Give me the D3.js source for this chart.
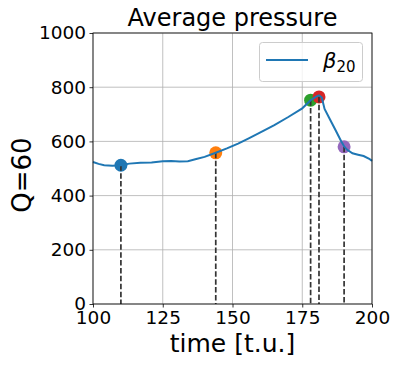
<!DOCTYPE html>
<meta charset="utf-8">
<script src="https://d3js.org/d3.v7.js"></script>
<style>
  body { margin: 0; background: #fff; }
  text { font-family: "DejaVu Sans", sans-serif; }
</style>
<div id="my_dataviz"></div>
<script>

// pressure curve
const times = [100, 102, 104, 107, 110, 113, 117, 121, 125, 128, 131, 134, 137, 140, 144, 148, 152, 156, 160, 165, 170, 175, 178, 180, 181, 182, 183, 185, 187, 189, 190, 191, 193, 195, 197, 199, 200];
const pressure = [524, 517, 512, 510, 512, 518, 521, 522, 527, 528, 526, 527, 535, 543, 558, 574, 592, 612, 633, 660, 690, 722, 752, 765, 770, 762, 720, 680, 640, 600, 582, 570, 556, 551, 546, 536, 528];

// marked instants
const markTimes = [110, 144, 178, 181, 190];
const markValues = [512, 558, 752, 764, 580];
const markColors = ["#1f77b4", "#ff7f0e", "#2ca02c", "#d62728", "#9467bd"];

const xTicks = [100, 125, 150, 175, 200];
const yTicks = [0, 200, 400, 600, 800, 1000];

const margin = {top: 33, right: 26, bottom: 61, left: 93},
  width = 398 - margin.left - margin.right,
  height = 365 - margin.top - margin.bottom;

const root = d3.select("#my_dataviz")
  .append("svg")
    .attr("width", 398)
    .attr("height", 365);

const svg = root.append("g")
  .attr("transform", `translate(${margin.left}, ${margin.top})`);

const x = d3.scaleLinear().domain([100, 200]).range([0, width]);
const y = d3.scaleLinear().domain([0, 1000]).range([height, 0]);

// grid
svg.append("g")
  .selectAll("line.gx")
  .data(xTicks)
  .join("line")
    .attr("x1", d => x(d)).attr("x2", d => x(d))
    .attr("y1", 0).attr("y2", height)
    .style("stroke", "#b0b0b0").style("stroke-width", 0.8);
svg.append("g")
  .selectAll("line.gy")
  .data(yTicks)
  .join("line")
    .attr("x1", 0).attr("x2", width)
    .attr("y1", d => y(d)).attr("y2", d => y(d))
    .style("stroke", "#b0b0b0").style("stroke-width", 0.8);

// axes
const xAxis = svg.append("g")
  .attr("transform", `translate(0, ${height})`)
  .call(d3.axisBottom(x).tickValues(xTicks).tickSize(3.5).tickPadding(3.5));
const yAxis = svg.append("g")
  .call(d3.axisLeft(y).tickValues(yTicks).tickSize(3.5).tickPadding(3.5).tickFormat(d3.format("d")));
[xAxis, yAxis].forEach(a => {
  a.selectAll("text").style("font-size", "18.5px").style("fill", "#000");
  a.selectAll("line").style("stroke", "#000").style("stroke-width", 0.8);
  a.select(".domain").remove();
});
xAxis.selectAll("text").attr("dy", "0.75em").attr("y", 6);

// markers
const marks = markTimes.map((t, i) => ({t: t, v: markValues[i], c: markColors[i]}));
svg.append("g")
  .selectAll("circle")
  .data(marks)
  .join("circle")
    .attr("cx", d => x(d.t))
    .attr("cy", d => y(d.v))
    .attr("r", 6.5)
    .style("fill", d => d.c);

// dashed drop lines
svg.append("g")
  .selectAll("line")
  .data(marks)
  .join("line")
    .attr("x1", d => x(d.t)).attr("x2", d => x(d.t))
    .attr("y1", d => y(d.v)).attr("y2", height)
    .style("stroke", "#333")
    .style("stroke-width", 1.7)
    .style("stroke-dasharray", "5.5,2.4");

// curve
const line = d3.line()
  .x((d, i) => x(times[i]))
  .y(d => y(d));
svg.append("path")
  .datum(pressure)
  .attr("d", line)
  .style("fill", "none")
  .style("stroke", "#1f77b4")
  .style("stroke-width", 2);

// frame
svg.append("rect")
  .attr("width", width).attr("height", height)
  .style("fill", "none").style("stroke", "#000").style("stroke-width", 0.8);

// legend
const lg = root.append("g");
lg.append("rect")
  .attr("x", 259.5).attr("y", 42.5).attr("width", 103).attr("height", 39)
  .attr("rx", 3)
  .style("fill", "#fff").style("fill-opacity", 0.8)
  .style("stroke", "#ccc").style("stroke-width", 1);
lg.append("line")
  .attr("x1", 266).attr("x2", 308).attr("y1", 60).attr("y2", 60)
  .style("stroke", "#1f77b4").style("stroke-width", 2);
const lt = lg.append("text")
  .attr("x", 323).attr("y", 68)
  .style("font-size", "21px");
lt.append("tspan").style("font-style", "italic").text("β");
lt.append("tspan").attr("dy", 4).style("font-size", "15px").text("20");

// titles
root.append("text")
  .attr("x", margin.left + width / 2).attr("y", 26)
  .attr("text-anchor", "middle")
  .style("font-size", "24px")
  .text("Average pressure");
root.append("text")
  .attr("x", margin.left + width / 2).attr("y", 352)
  .attr("text-anchor", "middle")
  .style("font-size", "25px")
  .text("time [t.u.]");
root.append("text")
  .attr("transform", `translate(31, 175) rotate(-90)`)
  .attr("text-anchor", "middle")
  .style("font-size", "26px")
  .text("Q=60");

</script>
